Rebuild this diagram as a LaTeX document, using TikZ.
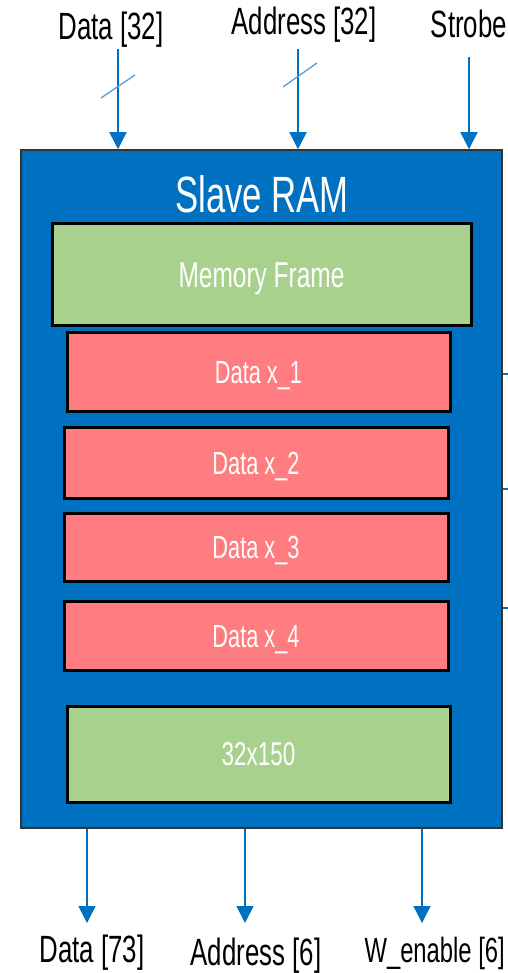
\documentclass[tikz,border=0pt]{standalone}
\usepackage{fontspec}
\setmainfont[FakeStretch=0.68]{Liberation Sans}
\usetikzlibrary{arrows.meta}
\definecolor{ramblue}{HTML}{0070C0}
\definecolor{slashblue}{HTML}{5B9BD5}
\definecolor{memgreen}{HTML}{A9D18E}
\definecolor{datared}{HTML}{FF7C80}
\tikzset{
  fs/.style={font=\fontsize{#1}{#1}\selectfont},
  lbl/.style={anchor=base, inner sep=0pt, fs=38, text=black},
  inbox/.style={draw=black, line width=3pt, inner sep=0pt, text=white, text depth=0pt},
  greenbox/.style={inbox, fill=memgreen},
  redbox/.style={inbox, fill=datared, fs=32, text height=23pt},
  arr/.style={draw=ramblue, line width=1.5pt, -{Triangle[width=17pt,length=17pt]}},
  slash/.style={draw=slashblue, line width=1.3pt},
  tick/.style={draw=ramblue, line width=1.5pt}
}
\begin{document}
\begin{tikzpicture}[x=1pt, y=-1pt]
\useasboundingbox (0,0) rectangle (507,973);
% main block
\node[draw=black!80, line width=1.5pt, fill=ramblue, minimum width=481pt, minimum height=678pt, inner sep=0pt] (main) at (261.5,489) {};
\node[anchor=base, inner sep=0pt, fs=51, text=white] (title) at (262,213) {Slave RAM};
\node[greenbox, fs=36, text height=26pt, minimum width=419pt, minimum height=101pt] (mem) at (261.5,274.5) {Memory Frame};
\node[redbox, minimum width=383pt, minimum height=79pt] (d1) at (258.5,371.5) {Data x\_1};
\node[redbox, minimum width=384pt, minimum height=71pt] (d2) at (256,462.5) {Data x\_2};
\node[redbox, minimum width=384pt, minimum height=68pt] (d3) at (256,547) {Data x\_3};
\node[redbox, minimum width=384pt, minimum height=69pt] (d4) at (256,635.5) {Data x\_4};
\node[greenbox, fs=33, text height=23pt, minimum width=383pt, minimum height=96pt] (sz) at (258.5,754) {32x150};
% top labels
\node[lbl] (ldata) at (111,40) {Data [32]};
\node[lbl] (laddr) at (304,35) {Address [32]};
\node[lbl] (lstrobe) at (469,38) {Strobe};
\coordinate (tdata) at (118,49);
\coordinate (taddr) at (298,49);
\coordinate (tstrobe) at (469,57);
\draw[arr] (tdata) -- (tdata |- main.north);
\draw[arr] (taddr) -- (taddr |- main.north);
\draw[arr] (tstrobe) -- (tstrobe |- main.north);
\coordinate (s1a) at (101,98); \coordinate (s1b) at (135,75);
\coordinate (s2a) at (283,87); \coordinate (s2b) at (317,63);
\draw[slash] (s1a) -- (s1b);
\draw[slash] (s2a) -- (s2b);
% bottom outputs
\coordinate (bdata) at (87,923);
\coordinate (baddr) at (245,923);
\coordinate (bwen) at (422,923);
\draw[arr] (bdata |- main.south) -- (bdata);
\draw[arr] (baddr |- main.south) -- (baddr);
\draw[arr] (bwen |- main.south) -- (bwen);
\node[lbl] (odata) at (92,962) {Data [73]};
\node[lbl] (oaddr) at (256,965) {Address [6]};
\node[lbl, fs=35, anchor=base east] (owen) at (505,962) {W\_enable [6]};
% right side stubs
\coordinate (r1) at (510,374);
\coordinate (r2) at (510,489);
\coordinate (r3) at (510,608);
\draw[tick] (r1 -| main.east) -- (r1);
\draw[tick] (r2 -| main.east) -- (r2);
\draw[tick] (r3 -| main.east) -- (r3);
\end{tikzpicture}
\end{document}
